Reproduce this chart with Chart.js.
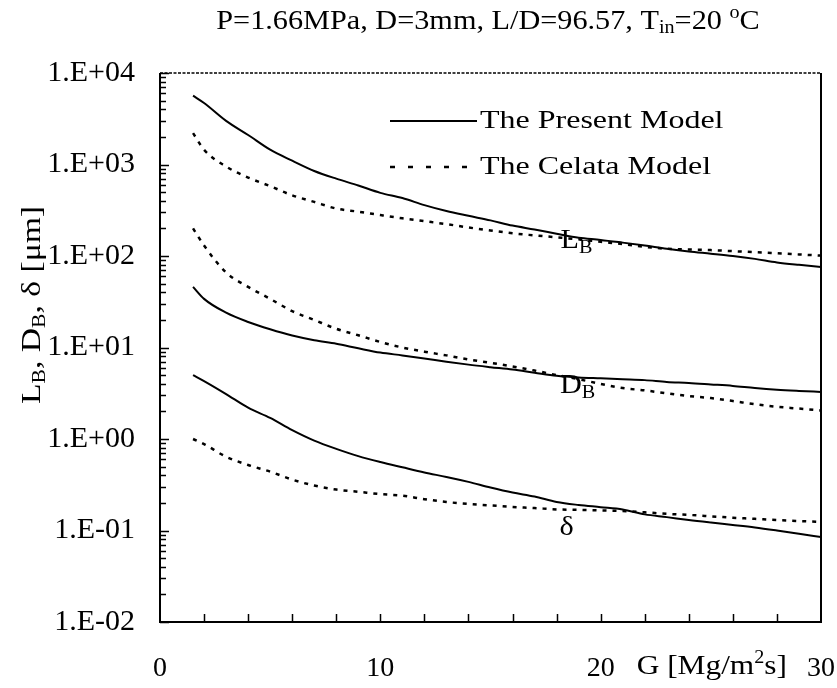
<!DOCTYPE html>
<html>
<head>
<meta charset="utf-8">
<script src="https://cdn.jsdelivr.net/npm/chart.js@4.4.1/dist/chart.umd.min.js"></script>
<style>
  html, body { margin: 0; padding: 0; background: #fff; }
  #wrap { width: 837px; height: 688px; }
</style>
</head>
<body>
<div id="wrap"><canvas id="chart" width="837" height="688"></canvas></div>
<script>
// ── Data ──────────────────────────────────────────────────────────────
const gValues = [1.5, 2, 3, 4, 5, 6, 7, 8, 9, 10, 11, 12, 13, 14, 15, 16, 17, 18, 19, 20, 21, 22, 23, 24, 25, 26, 27, 28, 29, 30];

const lbPresent = [5650, 4700, 3000, 2100, 1450, 1100, 850, 700, 590, 490, 430, 360, 310, 275, 245, 215, 195, 175, 158, 150, 140, 130, 120, 112, 106, 100, 93, 85, 80, 76];
const lbCelata  = [2200, 1450, 950, 720, 580, 460, 390, 330, 305, 280, 258, 240, 223, 205, 190, 177, 168, 160, 152, 143, 135, 126, 120, 118, 116, 113, 110, 107, 104, 101];
const dbPresent = [46, 34, 24, 19, 15.8, 13.5, 12, 11, 9.8, 8.8, 8.2, 7.6, 7.0, 6.5, 6.1, 5.75, 5.3, 4.9, 4.7, 4.6, 4.5, 4.4, 4.2, 4.1, 3.95, 3.8, 3.6, 3.45, 3.35, 3.27];
const dbCelata  = [200, 130, 66, 46, 34, 25, 20, 16, 13.6, 11.5, 10, 9, 8.2, 7.4, 6.8, 6.2, 5.6, 5.0, 4.5, 4.0, 3.6, 3.4, 3.15, 2.95, 2.8, 2.6, 2.4, 2.25, 2.15, 2.05];
const dPresent  = [5.0, 4.3, 3.1, 2.2, 1.7, 1.25, 0.96, 0.78, 0.65, 0.56, 0.49, 0.43, 0.385, 0.34, 0.295, 0.26, 0.235, 0.205, 0.19, 0.18, 0.17, 0.15, 0.14, 0.13, 0.122, 0.115, 0.108, 0.1, 0.092, 0.085];
const dCelata   = [1.0, 0.88, 0.64, 0.52, 0.44, 0.36, 0.31, 0.28, 0.265, 0.25, 0.24, 0.22, 0.205, 0.195, 0.188, 0.181, 0.176, 0.17, 0.168, 0.166, 0.163, 0.158, 0.152, 0.148, 0.143, 0.138, 0.134, 0.13, 0.127, 0.124];

const yTicks = [0.01, 0.1, 1, 10, 100, 1000, 10000];
const yTickLabels = ['1.E-02', '1.E-01', '1.E+00', '1.E+01', '1.E+02', '1.E+03', '1.E+04'];
const xTicks = [0, 10, 20, 30];
const xMarks = [2, 4, 6, 8, 10, 12, 14, 16, 18, 20, 22, 24, 26, 28];

// curve labels: [main, subscript, G, value]
const curveLabels = [
  ['L', 'B', 18.9, 145],
  ['D', 'B', 18.95, 3.78],
  ['δ', '', 18.45, 0.106]
];

const SERIF = '"Liberation Serif", "Times New Roman", serif';

// ── Helpers ───────────────────────────────────────────────────────────
// parts: [[text, mode]] mode = '' | 'sub' | 'sup'; sx = horizontal stretch
function richWidth(ctx, parts, size) {
  let w = 0;
  parts.forEach(([t, m]) => {
    ctx.font = `${m ? Math.round(size * 0.66) : size}px ${SERIF}`;
    w += ctx.measureText(t).width;
  });
  return w;
}

function drawRich(ctx, parts, x, y, size, align, sx = 1) {
  const w = richWidth(ctx, parts, size) * sx;
  const x0 = align === 'center' ? x - w / 2 : align === 'right' ? x - w : x;
  ctx.save();
  ctx.translate(x0, y);
  ctx.scale(sx, 1);
  ctx.textAlign = 'left';
  ctx.textBaseline = 'middle';
  let cx = 0;
  parts.forEach(([t, m]) => {
    const s = m ? Math.round(size * 0.66) : size;
    ctx.font = `${s}px ${SERIF}`;
    const dy = m === 'sub' ? size * 0.25 : m === 'sup' ? -size * 0.32 : 0;
    ctx.fillText(t, cx, dy);
    cx += ctx.measureText(t).width;
  });
  ctx.restore();
}

// ── Plugins ───────────────────────────────────────────────────────────
const framePlugin = {
  id: 'frame',
  afterDraw(chart) {
    const { ctx, chartArea: a, scales: { x, y } } = chart;
    ctx.save();
    ctx.strokeStyle = '#000';
    ctx.lineWidth = 2;
    ctx.beginPath();
    ctx.moveTo(a.left, a.top);
    ctx.lineTo(a.left, a.bottom);
    ctx.lineTo(a.right, a.bottom);
    ctx.lineTo(a.right, a.top);
    ctx.stroke();
    // top edge looks dotted in the scan
    ctx.lineWidth = 1.5;
    ctx.setLineDash([3, 1.5]);
    ctx.beginPath();
    ctx.moveTo(a.left, a.top);
    ctx.lineTo(a.right, a.top);
    ctx.stroke();
    ctx.setLineDash([]);

    ctx.beginPath();
    xMarks.forEach(v => {
      const px = Math.round(x.getPixelForValue(v)) + 0.5;
      ctx.moveTo(px, a.bottom);
      ctx.lineTo(px, a.bottom - 8);
    });
    yTicks.forEach(dec => {
      for (let m = 1; m <= 9; m++) {
        const v = dec * m;
        if (v > 10000) break;
        const py = Math.round(y.getPixelForValue(v)) + 0.5;
        ctx.moveTo(a.left, py);
        ctx.lineTo(a.left + (m === 1 ? 9 : 6), py);
      }
    });
    ctx.stroke();
    ctx.restore();
  }
};

const textPlugin = {
  id: 'texts',
  afterDraw(chart) {
    const { ctx, scales: { x, y } } = chart;
    ctx.save();
    ctx.fillStyle = '#000';

    // title
    drawRich(ctx, [['P=1.66MPa, D=3mm, L/D=96.57, T', ''], ['in', 'sub'], ['=20 ', ''], ['o', 'sup'], ['C', '']],
      488, 22, 27, 'center', 1.12);

    // x axis title sits between 20 and 30
    drawRich(ctx, [['G [Mg/m', ''], ['2', 'sup'], ['s]', '']], x.getPixelForValue(20) + 36, 667, 28, 'left', 1.12);

    // y axis title, rotated
    ctx.save();
    ctx.translate(33, 305);
    ctx.rotate(-Math.PI / 2);
    drawRich(ctx, [['L', ''], ['B', 'sub'], [', D', ''], ['B', 'sub'], [', δ [μm]', '']], 0, 0, 28, 'center', 1.2);
    ctx.restore();

    // legend
    ctx.strokeStyle = '#000';
    ctx.lineWidth = 2;
    ctx.beginPath();
    ctx.moveTo(390, 121); ctx.lineTo(477, 121);
    ctx.stroke();
    ctx.setLineDash([5, 13]);
    ctx.lineWidth = 2.5;
    ctx.beginPath();
    ctx.moveTo(390, 167); ctx.lineTo(477, 167);
    ctx.stroke();
    ctx.setLineDash([]);
    drawRich(ctx, [['The Present Model', '']], 480, 121, 25, 'left', 1.28);
    drawRich(ctx, [['The Celata Model', '']], 480, 167, 25, 'left', 1.28);

    // curve labels
    curveLabels.forEach(([main, sub, gx, vy]) => {
      const parts = [[main, '']];
      if (sub) parts.push([sub, 'sub']);
      drawRich(ctx, parts, x.getPixelForValue(gx), y.getPixelForValue(vy), 27, 'center', 1.12);
    });
    ctx.restore();
  }
};

// ── Chart ─────────────────────────────────────────────────────────────
function series(vals, dashed) {
  return {
    data: gValues.map((g, i) => ({ x: g, y: vals[i] })),
    borderColor: '#000',
    borderWidth: dashed ? 2.5 : 2,
    borderDash: dashed ? [4, 6] : [],
    pointRadius: 0,
    fill: false,
    cubicInterpolationMode: 'monotone'
  };
}

new Chart(document.getElementById('chart'), {
  type: 'line',
  data: {
    datasets: [
      series(lbPresent, false), series(lbCelata, true),
      series(dbPresent, false), series(dbCelata, true),
      series(dPresent, false), series(dCelata, true)
    ]
  },
  options: {
    responsive: false,
    animation: false,
    devicePixelRatio: 1,
    layout: { padding: { top: 73, right: 16, left: 0, bottom: 0 } },
    plugins: { legend: { display: false }, tooltip: { enabled: false } },
    scales: {
      x: {
        type: 'linear',
        min: 0,
        max: 30,
        grid: { display: false, drawTicks: false },
        border: { display: false },
        afterBuildTicks: s => { s.ticks = xTicks.map(v => ({ value: v })); },
        afterFit: s => { s.height = 66; s.paddingLeft = 0; s.paddingRight = 0; },
        ticks: { color: '#000', padding: 30, maxRotation: 0, font: { family: SERIF, size: 28 } }
      },
      y: {
        type: 'logarithmic',
        min: 0.01,
        max: 10000,
        grid: { display: false, drawTicks: false },
        border: { display: false },
        afterBuildTicks: s => { s.ticks = yTicks.map(v => ({ value: v })); },
        afterFit: s => { s.width = 160; s.paddingTop = 0; s.paddingBottom = 0; },
        ticks: {
          color: '#000',
          padding: 25,
          font: { family: SERIF, size: 30 },
          callback: v => yTickLabels[yTicks.indexOf(v)]
        }
      }
    }
  },
  plugins: [framePlugin, textPlugin]
});
</script>
</body>
</html>
